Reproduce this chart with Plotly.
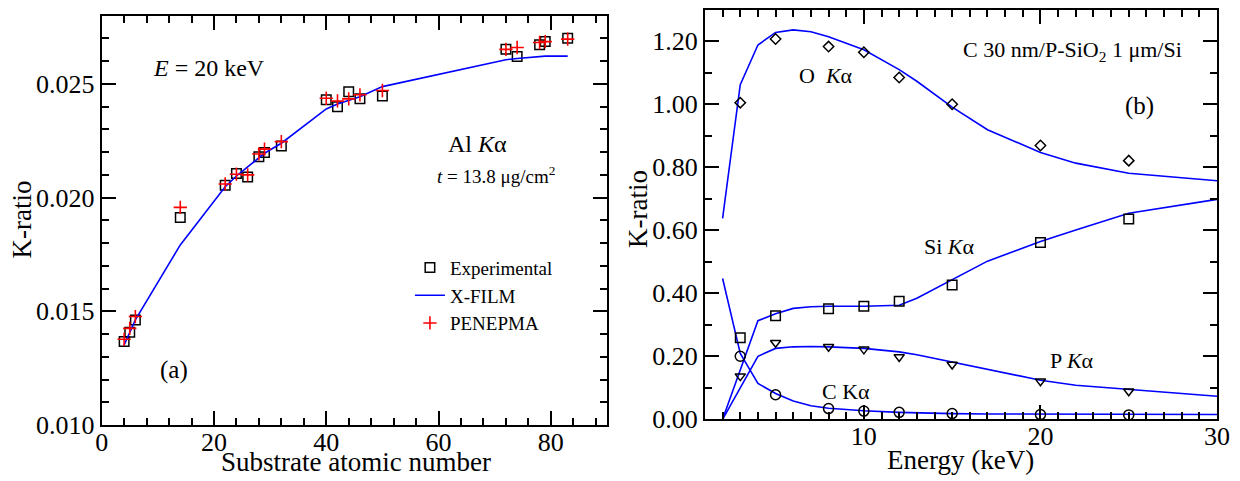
import plotly.graph_objects as go

# ---------- Panel (a) data ----------
Z_sub = [4, 5, 6, 14, 22, 24, 26, 28, 29, 32, 40, 42, 44, 46, 50, 72, 74, 78, 79, 83]
k_exp = [0.01367, 0.01408, 0.01462, 0.01912, 0.02054, 0.02106, 0.02091, 0.02180, 0.02198, 0.02227,
         0.02430, 0.02400, 0.02466, 0.02435, 0.02447, 0.02652, 0.02620, 0.02672, 0.02686, 0.02701]
k_pen = [0.01377, 0.01425, 0.01477, 0.01957, 0.02060, 0.02103, 0.02100, 0.02192, 0.02213, 0.02246,
         0.02437, 0.02425, 0.02434, 0.02452, 0.02471, 0.02652, 0.02660, 0.02682, 0.02686, 0.02697]
k_film = [0.01352, 0.01410, 0.01462, 0.01792, 0.02048, 0.02095, 0.02135, 0.02175, 0.02195, 0.02239,
          0.02390, 0.02412, 0.02428, 0.02444, 0.02488, 0.02606, 0.02612, 0.02622, 0.02622, 0.02622]

# ---------- Panel (b) data ----------
E_pts = [3, 5, 8, 10, 12, 15, 20, 25]
O_exp = [1.005, 1.207, 1.183, 1.165, 1.085, 1.000, 0.869, 0.821]
Si_exp = [0.259, 0.329, 0.351, 0.359, 0.375, 0.426, 0.561, 0.636]
P_exp = [0.137, 0.243, 0.230, 0.222, 0.198, 0.174, 0.121, 0.089]
C_exp = [0.200, 0.078, 0.034, 0.026, 0.022, 0.018, 0.015, 0.014]

E_line = [2, 3, 4, 5, 6, 7, 8, 10, 12, 13, 15, 17, 20, 22, 25, 30]
O_line = [0.638, 1.062, 1.188, 1.228, 1.236, 1.230, 1.214, 1.173, 1.110, 1.073, 0.991, 0.919, 0.847, 0.813, 0.781, 0.757]
Si_line = [0.0, 0.156, 0.313, 0.335, 0.352, 0.357, 0.359, 0.359, 0.362, 0.384, 0.442, 0.502, 0.564, 0.601, 0.654, 0.698]
P_line = [0.0, 0.100, 0.200, 0.225, 0.230, 0.231, 0.230, 0.225, 0.214, 0.205, 0.182, 0.158, 0.124, 0.108, 0.094, 0.073]
C_line = [0.447, 0.209, 0.114, 0.082, 0.058, 0.043, 0.035, 0.027, 0.022, 0.020, 0.018, 0.017, 0.016, 0.016, 0.015, 0.015]

FONT = "Liberation Serif"
BLUE = "#0000ff"

fig = go.Figure()

# Panel (a)
fig.add_trace(go.Scatter(x=Z_sub, y=k_exp, mode="markers", name="Experimental",
                         marker=dict(symbol="square-open", size=9.5, color="black", line=dict(width=1.5)),
                         xaxis="x", yaxis="y"))
fig.add_trace(go.Scatter(x=Z_sub, y=k_film, mode="lines", name="X-FILM",
                         line=dict(color=BLUE, width=1.6), xaxis="x", yaxis="y"))
fig.add_trace(go.Scatter(x=Z_sub, y=k_pen, mode="markers", name="PENEPMA",
                         marker=dict(symbol="cross-thin-open", size=9.5, color="red", line=dict(width=1.6, color="red")),
                         xaxis="x", yaxis="y"))

# Panel (b)
for yl in [O_line, Si_line, P_line, C_line]:
    fig.add_trace(go.Scatter(x=E_line, y=yl, mode="lines", showlegend=False,
                             line=dict(color=BLUE, width=1.6), xaxis="x2", yaxis="y2"))
for ye, sym, sz in [(O_exp, "diamond-open", 8), (Si_exp, "square-open", 9.5),
                    (P_exp, "triangle-down-open", 9), (C_exp, "circle-open", 10)]:
    fig.add_trace(go.Scatter(x=E_pts, y=ye, mode="markers", showlegend=False,
                             marker=dict(symbol=sym, size=sz, color="black", line=dict(width=1.5)),
                             xaxis="x2", yaxis="y2"))

axis_common = dict(showline=True, linecolor="black", linewidth=2, mirror="allticks",
                   ticks="inside", ticklen=14, tickwidth=2, tickcolor="black",
                   showgrid=False, zeroline=False, automargin=False,
                   tickfont=dict(family=FONT, size=26, color="black"))
minor_common = dict(ticks="inside", ticklen=7, tickwidth=2, tickcolor="black")

fig.update_layout(
    width=1240, height=481,
    margin=dict(l=0, r=0, t=0, b=0),
    paper_bgcolor="white", plot_bgcolor="white",
    font=dict(family=FONT, color="black"),
    xaxis=dict(domain=[0.0820, 0.4895], range=[0, 90], dtick=20, tick0=0, ticklabelstandoff=-7,
               minor=dict(dtick=4, **minor_common), anchor="y", **axis_common),
    yaxis=dict(domain=[0.1164, 0.9674], range=[0.010, 0.028], dtick=0.005, tick0=0.010, tickformat=".3f",
               minor=dict(dtick=0.001, **minor_common), anchor="x", **axis_common),
    xaxis2=dict(domain=[0.5685, 0.9815], range=[1, 30], dtick=10, tick0=0, ticklabelstandoff=-7,
                minor=dict(dtick=1, **minor_common), anchor="y2", **axis_common),
    yaxis2=dict(domain=[0.1283, 0.9798], range=[0, 1.30], dtick=0.2, tick0=0, tickformat=".2f",
                minor=dict(dtick=0.1, **minor_common), anchor="x2", **axis_common),
    legend=dict(x=0.3306, y=0.483, xanchor="left", yanchor="top", bgcolor="rgba(0,0,0,0)",
                font=dict(family=FONT, size=19, color="black"), tracegroupgap=0, itemwidth=30),
)

# Axis titles (placed as paper annotations for exact positioning)
titles = [
    dict(text="Substrate atomic number", x=0.2871, y=0.0400, angle=0),
    dict(text="Energy (keV)", x=0.7742, y=0.0440, angle=0),
    dict(text="K-ratio", x=0.0185, y=0.5437, angle=-90),
    dict(text="K-ratio", x=0.5145, y=0.5655, angle=-90),
]
for t in titles:
    fig.add_annotation(text=t["text"], x=t["x"], y=t["y"], xref="paper", yref="paper",
                       xanchor="center", yanchor="middle", textangle=t["angle"], showarrow=False,
                       font=dict(family=FONT, size=27, color="black"))

annotations = [
    dict(text="<i>E</i> = 20 keV", x=8.8, y=0.0257, xref="x", yref="y", xanchor="left", size=24),
    dict(text="Al <i>K</i>α", x=67.0, y=0.02235, xref="x", yref="y", xanchor="center", size=24),
    dict(text="<i>t</i> = 13.8 μg/cm<sup>2</sup>", x=59.3, y=0.0210, xref="x", yref="y", xanchor="left", size=19),
    dict(text="(a)", x=12.9, y=0.0124, xref="x", yref="y", xanchor="center", size=25),
    dict(text="C 30 nm/P-SiO<sub>2</sub> 1 μm/Si", x=21.8, y=1.168, xref="x2", yref="y2", xanchor="center", size=22),
    dict(text="O  <i>K</i>α", x=7.85, y=1.09, xref="x2", yref="y2", xanchor="center", size=22),
    dict(text="(b)", x=25.6, y=0.995, xref="x2", yref="y2", xanchor="center", size=25),
    dict(text="Si <i>K</i>α", x=14.85, y=0.55, xref="x2", yref="y2", xanchor="center", size=22),
    dict(text="P <i>K</i>α", x=21.8, y=0.186, xref="x2", yref="y2", xanchor="center", size=22),
    dict(text="C Kα", x=9.0, y=0.087, xref="x2", yref="y2", xanchor="center", size=22),
]
for a in annotations:
    fig.add_annotation(text=a["text"], x=a["x"], y=a["y"], xref=a["xref"], yref=a["yref"],
                       xanchor=a["xanchor"], yanchor="middle", showarrow=False,
                       font=dict(family=FONT, size=a["size"], color="black"))

fig.write_html("out.html", config={"displayModeBar": False},
               post_script="document.body.style.margin='0';document.body.style.overflow='hidden';")
